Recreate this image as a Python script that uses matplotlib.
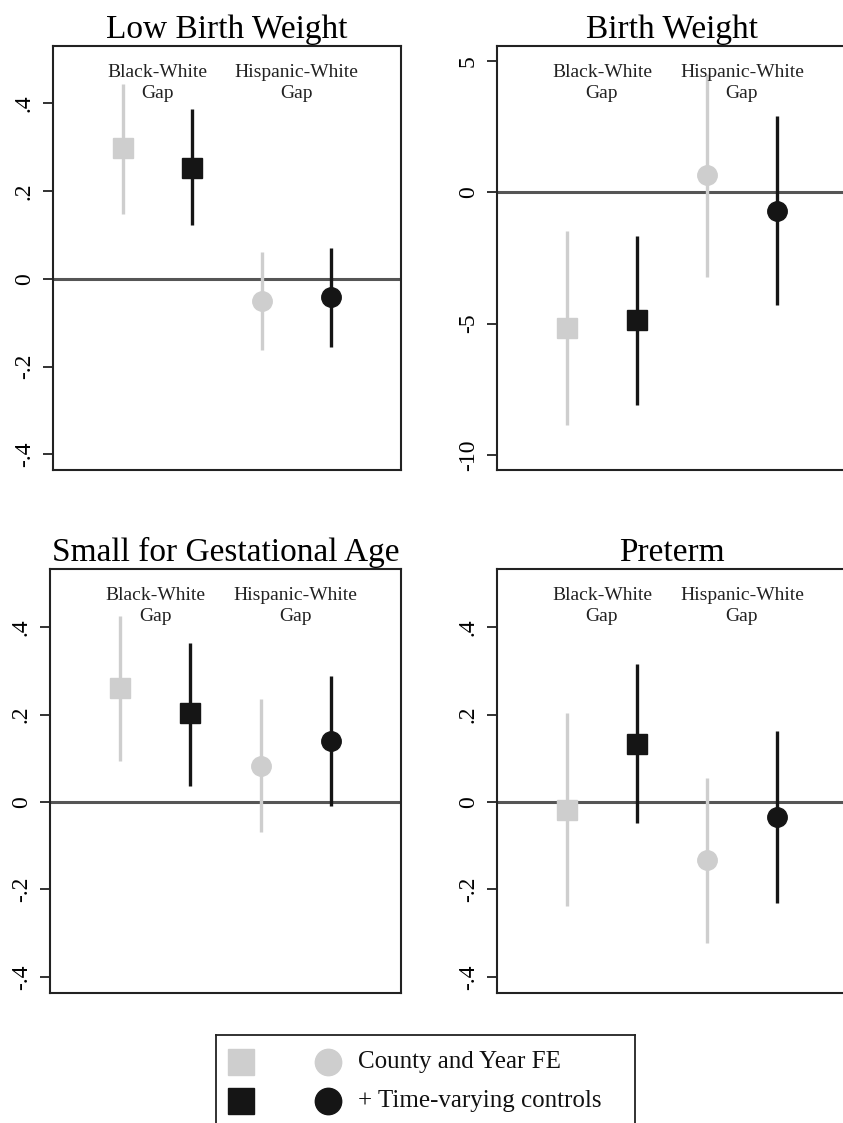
import numpy as np
import matplotlib
matplotlib.use("Agg")
import matplotlib.pyplot as plt
import matplotlib.transforms as mtransforms

plt.rcParams['font.family'] = ['Liberation Serif', 'DejaVu Serif']

# estimates: [Black-White base, Black-White + controls, Hispanic-White base, Hispanic-White + controls]
titles = ["Low Birth Weight", "Birth Weight", "Small for Gestational Age", "Preterm"]

lbw_est = [0.299, 0.253, -0.050, -0.041]
lbw_lo = [0.148, 0.123, -0.162, -0.155]
lbw_hi = [0.445, 0.388, 0.062, 0.071]

bw_est = [-5.18, -4.87, 0.65, -0.72]
bw_lo = [-8.87, -8.11, -3.24, -4.30]
bw_hi = [-1.48, -1.67, 4.49, 2.89]

sga_est = [0.261, 0.203, 0.082, 0.139]
sga_lo = [0.094, 0.037, -0.069, -0.009]
sga_hi = [0.425, 0.363, 0.235, 0.288]

pt_est = [-0.018, 0.133, -0.133, -0.034]
pt_lo = [-0.238, -0.048, -0.322, -0.231]
pt_hi = [0.203, 0.315, 0.055, 0.162]

gap_labels = ["Black-White\nGap", "Hispanic-White\nGap"]
legend_labels = ["County and Year FE", "+ Time-varying controls"]

small_ticks = [-0.4, -0.2, 0, 0.2, 0.4]
small_ticklabels = ["-.4", "-.2", "0", ".2", ".4"]
bw_ticks = [-10, -5, 0, 5]
bw_ticklabels = ["-10", "-5", "0", "5"]

GREY = '#cecece'
BLACK = '#151515'
positions = [1, 2, 3, 4]
markers = ['s', 's', 'o', 'o']
colors = [GREY, BLACK, GREY, BLACK]

W, H = 843, 1123
fig = plt.figure(figsize=(W / 100, H / 100), dpi=100)

def px_axes(left, top, right, bottom):
    return fig.add_axes([left / W, 1 - bottom / H, (right - left) / W, (bottom - top) / H])

panels = [
    (px_axes(53, 46, 401, 470), titles[0], lbw_est, lbw_lo, lbw_hi, (-0.436, 0.531), small_ticks, small_ticklabels),
    (px_axes(497, 46, 847, 470), titles[1], bw_est, bw_lo, bw_hi, (-10.57, 5.57), bw_ticks, bw_ticklabels),
    (px_axes(50, 569, 401, 993), titles[2], sga_est, sga_lo, sga_hi, (-0.437, 0.533), small_ticks, small_ticklabels),
    (px_axes(497, 569, 847, 993), titles[3], pt_est, pt_lo, pt_hi, (-0.437, 0.533), small_ticks, small_ticklabels),
]

for ax, title, est, lo, hi, ylim, ticks, ticklabels in panels:
    ax.axhline(0, color='#555555', lw=2.2, zorder=1)
    for x, e, l, h, m, c in zip(positions, est, lo, hi, markers, colors):
        ax.plot([x, x], [l, h], color=c, lw=2.4, solid_capstyle='butt', zorder=2)
        ax.plot(x, e, marker=m, color=c, markersize=14, linestyle='none', zorder=3)
    ax.set_xlim(0, 5)
    ax.set_ylim(*ylim)
    ax.set_xticks([])
    ax.set_yticks(ticks)
    ax.set_yticklabels(ticklabels, rotation=90, va='center', fontsize=17)
    ax.tick_params(axis='y', length=7, width=1.3, pad=6, color='#222222')
    for s in ax.spines.values():
        s.set_linewidth(1.5)
        s.set_color('#222222')
    ax.set_title(title, fontsize=24, pad=6)
    trans = mtransforms.blended_transform_factory(ax.transData, ax.transAxes)
    for gx, gl in zip([1.5, 3.5], gap_labels):
        ax.text(gx, 0.913, gl, transform=trans, ha='center', va='center',
                fontsize=14, color='#222222', linespacing=1.3)

# legend box
lax = px_axes(216, 1035, 635, 1140)
lax.set_xlim(0, 1)
lax.set_ylim(0, 1)
lax.set_xticks([])
lax.set_yticks([])
for s in lax.spines.values():
    s.set_linewidth(1.3)
    s.set_color('#222222')
for ry, c, lab in zip([0.74, 0.37], [GREY, BLACK], legend_labels):
    lax.plot(0.06, ry, marker='s', color=c, markersize=19, linestyle='none')
    lax.plot(0.268, ry, marker='o', color=c, markersize=19, linestyle='none')
    lax.text(0.338, ry, lab, fontsize=18, va='center', ha='left', color='#111111')

fig.savefig('out.png', dpi=100)
